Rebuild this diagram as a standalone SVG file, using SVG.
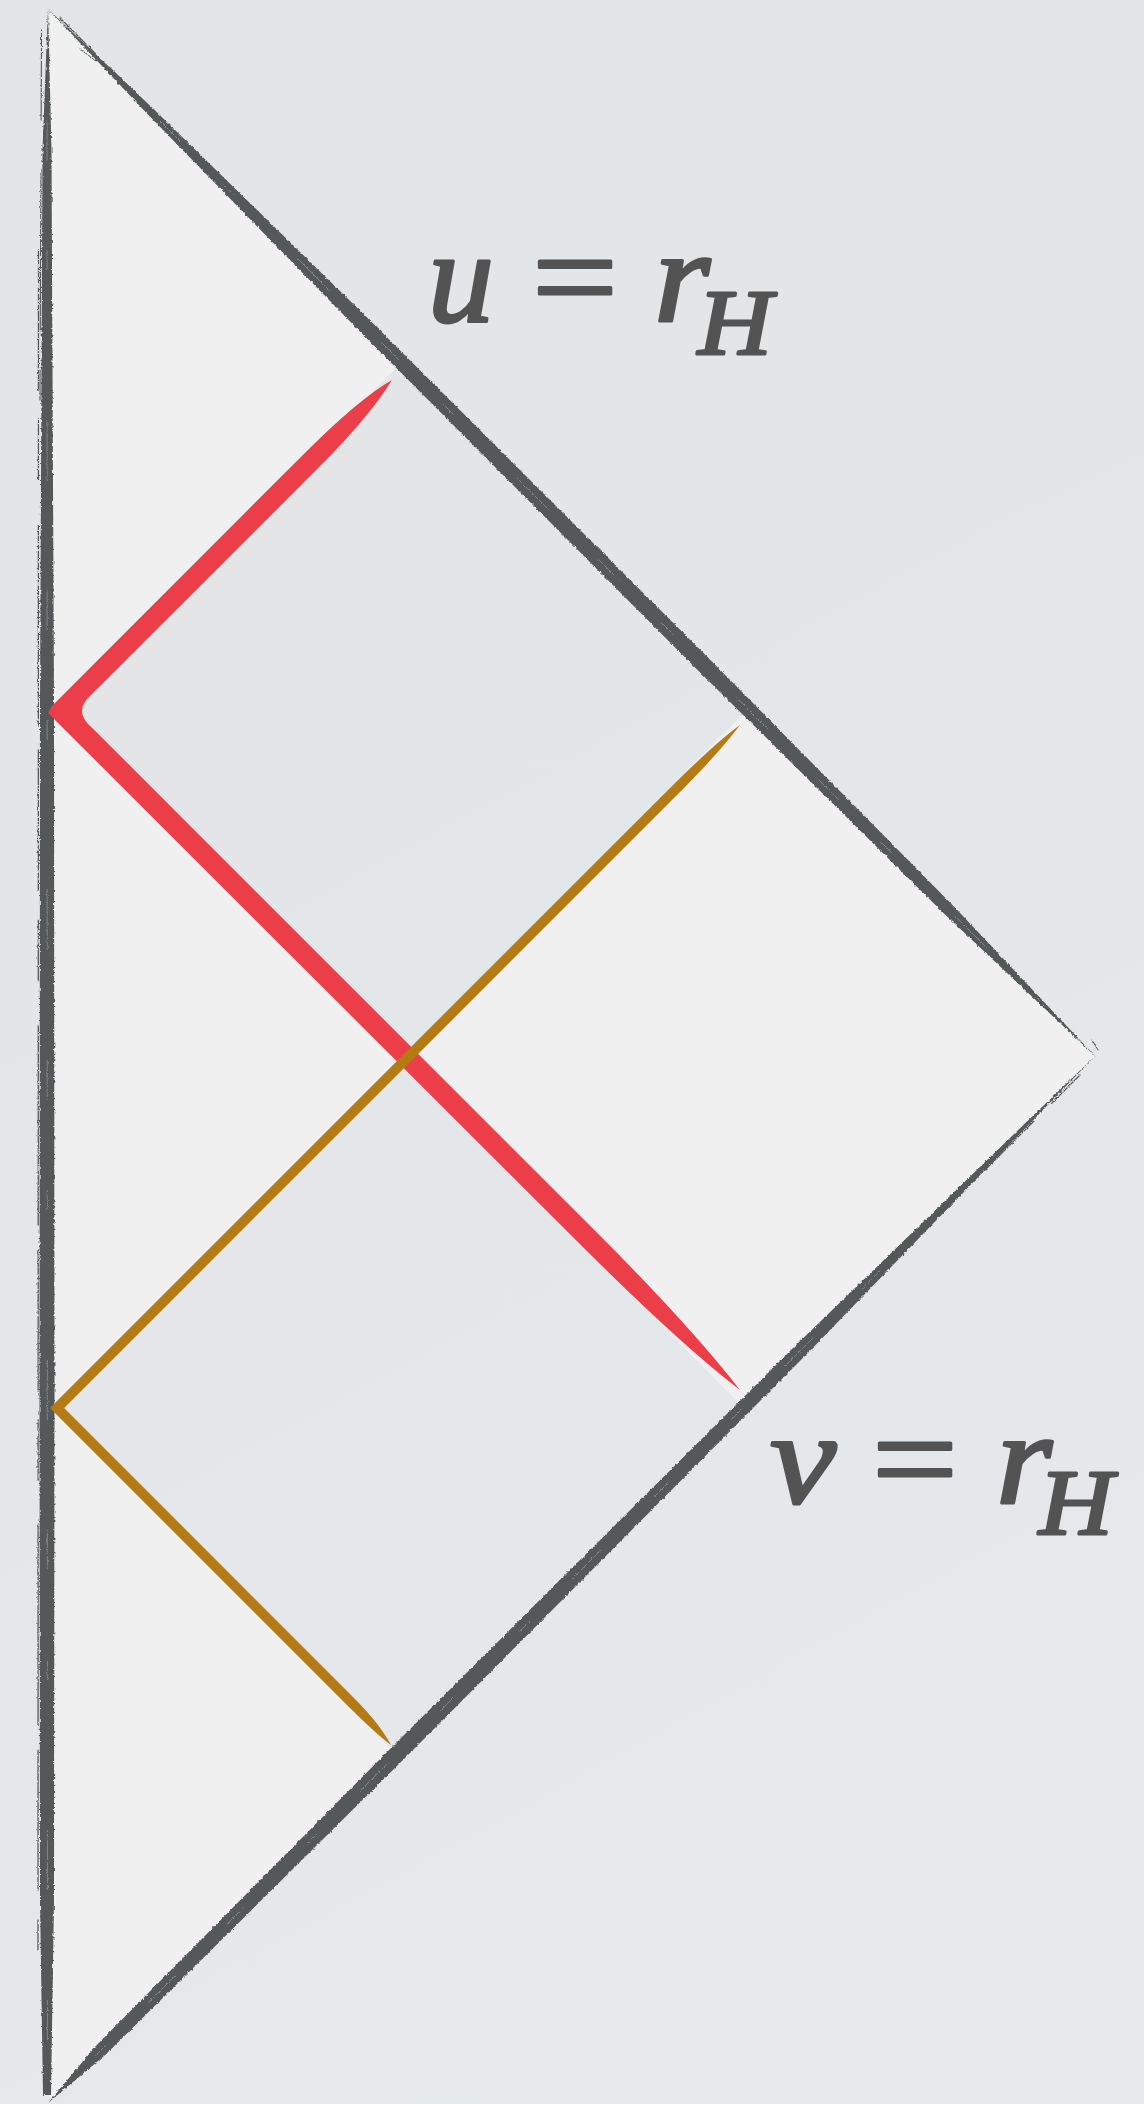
<svg xmlns="http://www.w3.org/2000/svg" width="1144" height="2104" viewBox="0 0 1144 2104">
  <defs>
    <linearGradient id="bg" gradientUnits="userSpaceOnUse" x1="0" y1="0" x2="1144" y2="2104">
      <stop offset="0" stop-color="#e2e4e6"/>
      <stop offset="1" stop-color="#e6e9ec"/>
    </linearGradient>
    <filter id="rough" filterUnits="userSpaceOnUse" x="0" y="0" width="1144" height="2104">
      <feTurbulence type="fractalNoise" baseFrequency="0.35" numOctaves="2" seed="3" result="n"/>
      <feDisplacementMap in="SourceGraphic" in2="n" scale="3" xChannelSelector="R" yChannelSelector="G"/>
    </filter>
    <style>
      .ink { fill: #555959; }
      .hair { stroke: #555959; fill: none; stroke-linecap: round; }
      .streak { stroke: #8a8e8f; fill: none; stroke-width: 0.8; }
      .math { fill: #535353; stroke: #535353; stroke-width: 3; stroke-linejoin: round; font-family: "Liberation Serif", "Times New Roman", serif; }
    </style>
  </defs>

  <g id="background">
    <rect x="0" y="0" width="1144" height="2104" fill="url(#bg)"/>
  </g>

  <g id="regions">
    <polygon id="interior" points="50,11 1095,1056 50,2101" fill="#f0f0f0"/>
    <polygon id="square-upper" points="50,714 402,362 748,709 397,1061" fill="url(#bg)"/>
    <polygon id="square-lower" points="397,1061 743,1407 396,1754 50,1408" fill="url(#bg)"/>
  </g>

  <g id="frame" filter="url(#rough)">
    <!-- left edge r = 0 -->
    <g id="edge-left">
      <polygon class="ink" points="48,8 51.5,150 54,700 54.5,1400 54,1900 51,2095 43,2095 40,1900 39.5,1400 40,700 42.5,150"/>
      <path class="hair" stroke-width="1.3" stroke-dasharray="140 30 60 45 200 25" d="M38.5 250 L38 1950"/>
      <path class="hair" stroke-width="1.1" stroke-dasharray="90 50 160 40" d="M41.5 30 L40 400"/>
      <path class="streak" stroke-dasharray="40 90 20 150 60 110" d="M47 120 L47.5 2060"/>
    </g>
    <!-- horizon u = r_H -->
    <g id="edge-u">
      <polygon class="ink" points="48,9 152.8,108.2 365.3,315.7 705.7,655.3 954.2,906.8 1096,1057 945.8,915.2 694.3,666.7 354.7,326.3 147.2,113.8"/>
      <path class="hair" stroke-width="1.2" stroke-dasharray="50 20 120 35 80 25" d="M60 18 L300 258"/>
      <path class="hair" stroke-width="1" d="M80 49 L96 61"/>
      <path class="streak" stroke-dasharray="30 60 15 90 45 70" d="M160 121 L1040 1001"/>
    </g>
    <!-- horizon v = r_H -->
    <g id="edge-v">
      <polygon class="ink" points="1095,1056 982.1,1173.1 804.9,1355.9 406,1757 104.6,2055.6 48,2103 95.4,2046.4 394,1745 795.1,1346.1 977.9,1168.9"/>
      <path class="hair" stroke-width="1.2" stroke-dasharray="40 25 70 30" d="M1080 1075 L900 1255"/>
      <path class="hair" stroke-width="1" d="M1092 1040 L1098 1050"/>
      <path class="streak" stroke-dasharray="25 70 40 60 15 90" d="M880 1271 L90 2061"/>
    </g>
  </g>

  <g id="rays">
    <path id="red-ray" fill="#ec3e48" d="M48 713 L52 706 L302.9 454.9 Q360 397.9 392 380 Q370 416.1 317.1 469.1 L92 694.1 Q72 711 92 727.7 L597.1 1232.8 Q690 1325.7 740 1390 Q680 1344 582.9 1247 Z"/>
    <path id="gold-ray" fill="#b47b14" d="M50 1408 L666.5 791.5 Q715 743 740 725 Q720 752.1 673.5 798.6 L64.1 1408 L353.5 1697.4 Q380 1723.9 391 1745 Q375 1733 346.5 1704.5 Z"/>
  </g>

  <g id="labels">
    <g id="label-u">
      <text class="math" font-style="italic" x="428" y="321" font-size="132" textLength="66" lengthAdjust="spacingAndGlyphs">u</text>
      <text class="math" x="532" y="321" font-size="132" textLength="86" lengthAdjust="spacingAndGlyphs">=</text>
      <text class="math" font-style="italic" x="654" y="321" font-size="132" textLength="56" lengthAdjust="spacingAndGlyphs">r</text>
      <text class="math" font-style="italic" stroke-width="2.5" x="698" y="354" font-size="94" textLength="74" lengthAdjust="spacingAndGlyphs">H</text>
    </g>
    <g id="label-v">
      <text class="math" font-style="italic" x="770" y="1503" font-size="132" textLength="66" lengthAdjust="spacingAndGlyphs">v</text>
      <text class="math" x="872" y="1503" font-size="132" textLength="86" lengthAdjust="spacingAndGlyphs">=</text>
      <text class="math" font-style="italic" x="996" y="1503" font-size="132" textLength="56" lengthAdjust="spacingAndGlyphs">r</text>
      <text class="math" font-style="italic" stroke-width="2.5" x="1039" y="1534" font-size="94" textLength="74" lengthAdjust="spacingAndGlyphs">H</text>
    </g>
  </g>
</svg>
